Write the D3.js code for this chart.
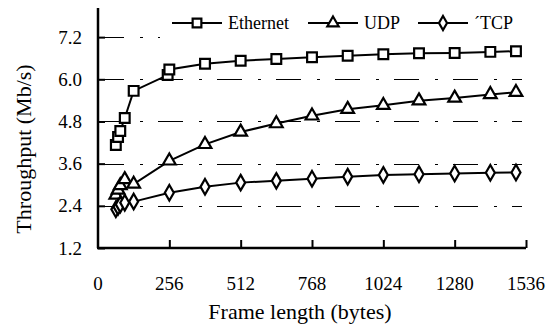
<!DOCTYPE html>
<html><head><meta charset="utf-8">
<script src="https://cdn.jsdelivr.net/npm/d3@7"></script>
<style>
body{margin:0;background:#fff;}
svg text{font-family:"Liberation Serif","Times New Roman","DejaVu Serif",serif;}
</style></head>
<body>
<svg id="chart" width="550" height="326"></svg>
<script>
const ethernetFrames = [64, 72, 80, 96, 128, 250, 256, 384, 512, 640, 768, 896, 1024, 1152, 1280, 1408, 1500];
const ethernetValues = [4.13, 4.36, 4.53, 4.90, 5.67, 6.12, 6.28, 6.44, 6.53, 6.58, 6.63, 6.67, 6.71, 6.74, 6.75, 6.78, 6.80];
const udpFrames = [64, 72, 80, 96, 128, 256, 384, 512, 640, 768, 896, 1024, 1152, 1280, 1408, 1500];
const udpValues = [2.71, 2.85, 2.98, 3.15, 3.02, 3.68, 4.15, 4.50, 4.74, 4.96, 5.15, 5.26, 5.39, 5.47, 5.57, 5.63];
const tcpFrames = [64, 72, 80, 96, 128, 256, 384, 512, 640, 768, 896, 1024, 1152, 1280, 1408, 1500];
const tcpValues = [2.30, 2.37, 2.44, 2.49, 2.52, 2.77, 2.94, 3.06, 3.11, 3.17, 3.23, 3.28, 3.30, 3.32, 3.34, 3.35];
const seriesNames = ["Ethernet", "UDP", "\u00B4TCP"];
const xTicks = [0, 256, 512, 768, 1024, 1280, 1536];
const yTicks = [1.2, 2.4, 3.6, 4.8, 6.0, 7.2];

const FONT = '"Liberation Serif","Times New Roman","DejaVu Serif",serif';
const svg = d3.select("#chart");
const x = d3.scaleLinear().domain([0, 1536]).range([98, 526]);
const y = d3.scaleLinear().domain([1.2, 8.0]).range([248, 9]);

// grid lines
svg.append("g").selectAll("line").data(yTicks.filter(d => d > 1.2)).join("line")
  .attr("x1", 99).attr("x2", 522)
  .attr("y1", d => Math.round(y(d)) + 0.5).attr("y2", d => Math.round(y(d)) + 0.5)
  .attr("stroke", "#000").attr("stroke-width", 1)
  .attr("stroke-dasharray", "25,16,3,15");

// y axis
const yAxis = d3.axisRight(y).tickValues(yTicks).tickSize(7).tickFormat("");
const gy = svg.append("g").attr("transform", "translate(98,0)").call(yAxis);
gy.select(".domain").attr("stroke-width", 2.5).attr("d", `M0,8V${y(1.2)}`);
gy.selectAll(".tick line").attr("stroke-width", 2);
svg.append("g").selectAll("text").data(yTicks).join("text")
  .attr("x", 82).attr("y", d => y(d) + 6.5).attr("font-family", FONT)
  .attr("text-anchor", "end").attr("font-size", 19).text(d => d.toFixed(1));

// x axis
const xAxis = d3.axisTop(x).tickValues(xTicks.filter(d => d > 0)).tickSize(8).tickFormat("");
const gx = svg.append("g").attr("transform", "translate(0,248)").call(xAxis);
gx.select(".domain").attr("stroke-width", 2.5).attr("d", `M97,0H${x(1536)}`);
gx.selectAll(".tick line").attr("stroke-width", 2);
svg.append("g").selectAll("text").data(xTicks).join("text")
  .attr("x", d => x(d)).attr("y", 290).attr("font-family", FONT)
  .attr("text-anchor", "middle").attr("font-size", 19).text(d => d);

// titles
svg.append("text").attr("x", 300).attr("y", 319).attr("text-anchor", "middle")
  .attr("font-family", FONT).attr("font-size", 22).text("Frame length (bytes)");
svg.append("text").attr("transform", "translate(31,149) rotate(-90)")
  .attr("font-family", FONT).attr("text-anchor", "middle").attr("font-size", 22).text("Throughput (Mb/s)");

const symbols = [d3.symbolSquare, d3.symbolTriangle, d3.symbolDiamond];
const symSizes = [95, 70, 70];
const series = [
  ethernetFrames.map((f, i) => [f, ethernetValues[i]]),
  udpFrames.map((f, i) => [f, udpValues[i]]),
  tcpFrames.map((f, i) => [f, tcpValues[i]])
];
const line = d3.line().x(d => x(d[0])).y(d => y(d[1]));

series.forEach((s, k) => {
  svg.append("path").datum(s).attr("d", line)
    .attr("fill", "none").attr("stroke", "#000").attr("stroke-width", 2);
});
series.forEach((s, k) => {
  svg.append("g").selectAll("path").data(s).join("path")
    .attr("transform", d => `translate(${x(d[0])},${y(d[1])})`)
    .attr("d", d3.symbol(symbols[k], symSizes[k]))
    .attr("fill", "#fff").attr("stroke", "#000").attr("stroke-width", 2.2);
});

// legend
svg.append("rect").attr("x", 160).attr("y", 9).attr("width", 375).attr("height", 30).attr("fill", "#fff");
const legX = [172, 308, 418];
seriesNames.forEach((n, k) => {
  const g = svg.append("g").attr("transform", `translate(${legX[k]},23)`);
  g.append("line").attr("x1", 0).attr("x2", 50).attr("stroke", "#000").attr("stroke-width", 2);
  g.append("path").attr("transform", "translate(25,0)")
    .attr("d", d3.symbol(symbols[k], symSizes[k] * 0.8))
    .attr("fill", "#fff").attr("stroke", "#000").attr("stroke-width", 2.2);
  g.append("text").attr("x", 56).attr("y", 6).attr("font-family", FONT).attr("font-size", 18).text(n);
});
</script>
</body></html>
